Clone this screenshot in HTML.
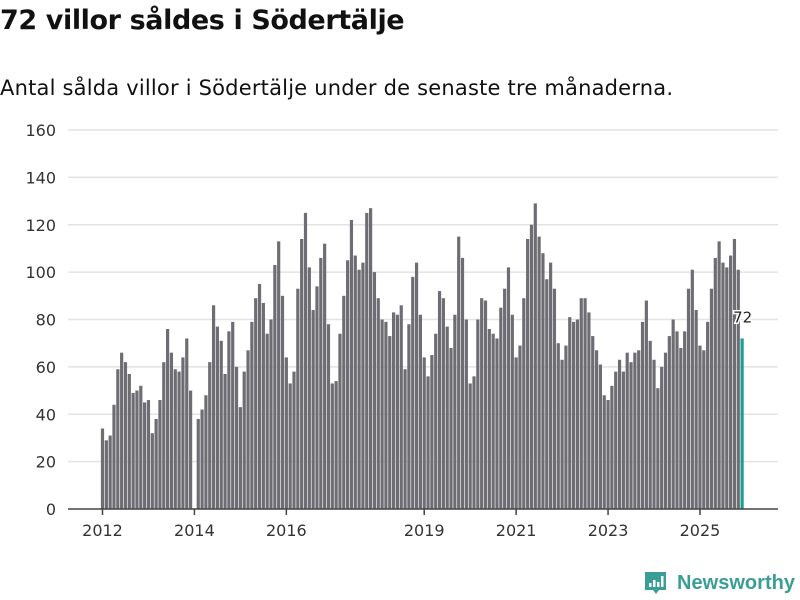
<!DOCTYPE html>
<html><head><meta charset="utf-8"><style>
body{margin:0;width:800px;height:600px;background:#fff;overflow:hidden;font-family:"DejaVu Sans","Liberation Sans",sans-serif;}
#title{position:absolute;left:0;top:5px;font-size:27px;font-weight:bold;color:#111;letter-spacing:-0.4px;white-space:nowrap}
#sub{position:absolute;left:0;top:76px;font-size:21px;color:#111;white-space:nowrap;letter-spacing:0.2px}
svg{position:absolute;left:0;top:0}
</style></head><body>
<div id="title">72 villor såldes i Södertälje</div>
<div id="sub">Antal sålda villor i Södertälje under de senaste tre månaderna.</div>
<svg id="chart" width="800" height="600">
<g id="grid"></g>
<g id="bars"></g>
<g id="axes"></g>
<g>
<path d="M645 572 h21 v18 h-7 l-3 4 l-3 -4 h-8 z" fill="#3a9e96"/>
<rect x="649" y="583" width="2.5" height="4" fill="#fff"/><rect x="653" y="580" width="2.5" height="7" fill="#fff"/><rect x="657" y="582" width="2.5" height="5" fill="#fff"/><rect x="661" y="576" width="2.5" height="11" fill="#fff"/>
<text x="677" y="589" font-size="20" font-weight="bold" fill="#3a9e96" font-family="Liberation Sans, sans-serif" textLength="118">Newsworthy</text>
</g>
</svg>
<script>
const years=[2012,2013,2014,2015,2016,2017,2018,2019,2020,2021,2022,2023,2024,2025];
const values=[
34,29,31,44,59,66,62,57,49,50,52,45,
46,32,38,46,62,76,66,59,58,64,72,50,
0,38,42,48,62,86,77,71,57,75,79,60,
43,58,67,79,89,95,87,74,80,103,113,90,
64,53,58,93,114,125,102,84,94,106,112,78,
53,54,74,90,105,122,107,101,104,125,127,100,
89,80,79,73,83,82,86,59,78,98,104,82,
64,56,65,74,92,89,77,68,82,115,106,80,
53,56,80,89,88,76,74,72,85,93,102,82,
64,69,89,114,120,129,115,108,97,104,93,70,
63,69,81,79,80,89,89,83,73,67,61,48,
46,52,58,63,58,66,62,66,67,79,88,71,
63,51,60,66,73,80,75,68,75,93,101,84,
69,67,79,93,106,113,104,102,107,114,101,72];
const yTicks=[0,20,40,60,80,100,120,140,160];
const xTickYears=[2012,2014,2016,2019,2021,2023,2025];
const NS="http://www.w3.org/2000/svg";
const y=v=>509-v*(379/160);
const x=i=>102.5+i*3.83;
function mk(t,a,p){const e=document.createElementNS(NS,t);for(const k in a)e.setAttribute(k,a[k]);p.appendChild(e);return e;}
const grid=document.getElementById('grid'),bars=document.getElementById('bars'),axes=document.getElementById('axes');
yTicks.forEach(v=>{
 if(v>0){const l=mk('line',{x1:68,x2:778,y1:y(v),y2:y(v),stroke:'#e3e3e3','stroke-width':1.5},grid);
 }
 const t=mk('text',{x:56,y:y(v)+6,'text-anchor':'end','font-size':16,fill:'#333'},axes);
 t.textContent=v;
 
});
values.forEach((v,i)=>{
 const last=i===values.length-1;
 const r=mk('rect',{x:x(i)-1.6,y:y(v),width:3.2,height:509-y(v),fill:last?'#1a9e94':'#6e6d73'},bars);
 
});
const li=values.length-1;
const lab=mk('text',{x:x(li)-9,y:y(values[li])-16,'font-size':15,fill:'#222',stroke:'#fff','stroke-width':3,'paint-order':'stroke'},axes);
lab.textContent=values[li];

const base=mk('line',{x1:68,x2:778,y1:509,y2:509,stroke:'#444','stroke-width':1.5},axes);

xTickYears.forEach(yr=>{
 const i=(yr-years[0])*12;
 const tk=mk('line',{x1:x(i),x2:x(i),y1:509,y2:515,stroke:'#444','stroke-width':1.5},axes);
 
 const t=mk('text',{x:x(i),y:536,'text-anchor':'middle','font-size':16,fill:'#333'},axes);
 t.textContent=yr;
 
});
</script>
</body></html>
